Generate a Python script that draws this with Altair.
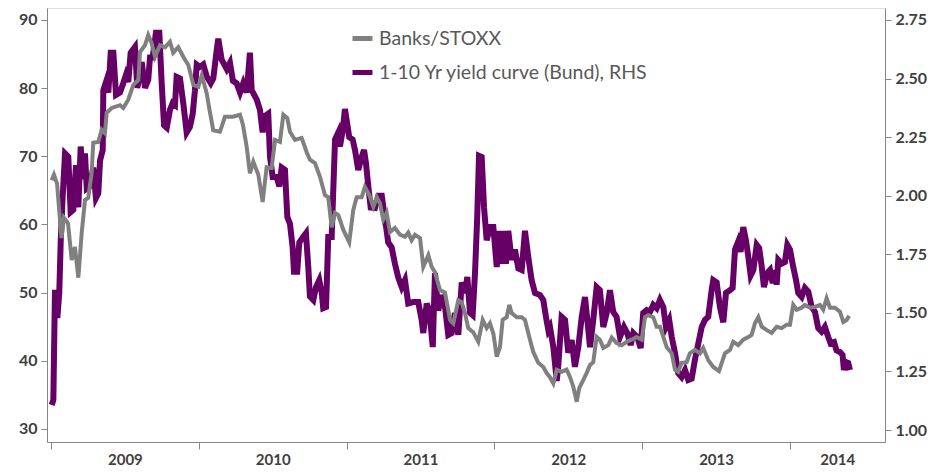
import altair as alt
import pandas as pd

# Decimal-year positions and values
banks_t = [2009.005, 2009.020, 2009.041, 2009.054, 2009.071, 2009.088, 2009.115, 2009.140, 2009.162, 2009.185,
           2009.208, 2009.230, 2009.252, 2009.275, 2009.286, 2009.320, 2009.343, 2009.365, 2009.377, 2009.411,
           2009.467, 2009.489, 2009.523, 2009.557, 2009.591, 2009.602, 2009.636, 2009.658, 2009.681, 2009.704,
           2009.738, 2009.771, 2009.805, 2009.827, 2009.861, 2009.895, 2009.929, 2009.963, 2009.997, 2010.020,
           2010.053, 2010.076, 2010.098, 2010.143, 2010.177, 2010.231, 2010.279, 2010.299, 2010.324, 2010.346,
           2010.369, 2010.403, 2010.432, 2010.459, 2010.493, 2010.516, 2010.549, 2010.572, 2010.599, 2010.617,
           2010.651, 2010.696, 2010.730, 2010.752, 2010.786, 2010.820, 2010.854, 2010.876, 2010.899, 2010.922,
           2010.944, 2010.978, 2011.018, 2011.045, 2011.068, 2011.102, 2011.124, 2011.154, 2011.181, 2011.204,
           2011.226, 2011.248, 2011.271, 2011.294, 2011.327, 2011.361, 2011.395, 2011.417, 2011.440, 2011.463,
           2011.497, 2011.519, 2011.553, 2011.576, 2011.598, 2011.632, 2011.666, 2011.700, 2011.722, 2011.756,
           2011.779, 2011.801, 2011.823, 2011.857, 2011.891, 2011.921, 2011.948, 2011.970, 2011.993, 2012.016,
           2012.038, 2012.056, 2012.083, 2012.101, 2012.117, 2012.151, 2012.185, 2012.207, 2012.241, 2012.263,
           2012.297, 2012.331, 2012.354, 2012.376, 2012.399, 2012.422, 2012.455, 2012.489, 2012.512, 2012.534,
           2012.557, 2012.574, 2012.602, 2012.624, 2012.647, 2012.669, 2012.692, 2012.714, 2012.737, 2012.771,
           2012.794, 2012.827, 2012.861, 2012.895, 2012.929, 2012.963, 2012.997, 2013.019, 2013.041, 2013.075,
           2013.098, 2013.120, 2013.143, 2013.166, 2013.200, 2013.222, 2013.244, 2013.267, 2013.301, 2013.323,
           2013.357, 2013.391, 2013.413, 2013.447, 2013.481, 2013.520, 2013.560, 2013.594, 2013.616, 2013.650,
           2013.684, 2013.718, 2013.741, 2013.763, 2013.786, 2013.809, 2013.843, 2013.876, 2013.910, 2013.944,
           2013.978, 2014.000, 2014.022, 2014.045, 2014.079, 2014.101, 2014.135, 2014.169, 2014.203, 2014.225,
           2014.248, 2014.271, 2014.304, 2014.338, 2014.361, 2014.383, 2014.401]
banks_v = [66.5, 67.3, 66.0, 62.5, 58.0, 61.0, 60.2, 54.8, 56.7, 52.2,
           58.8, 63.6, 63.9, 67.5, 72.0, 72.1, 73.9, 73.4, 76.4, 77.1,
           77.5, 77.1, 78.3, 80.5, 81.2, 85.3, 86.3, 87.8, 86.6, 84.6,
           86.3, 86.0, 86.8, 85.2, 86.0, 84.6, 83.4, 80.5, 80.2, 81.9,
           79.3, 76.4, 73.8, 73.6, 75.8, 75.8, 76.1, 74.6, 71.4, 67.5,
           69.2, 67.3, 63.3, 68.4, 68.3, 72.4, 72.1, 76.1, 75.6, 73.6,
           72.4, 72.7, 70.6, 69.5, 69.0, 67.0, 64.3, 64.0, 59.6, 61.7,
           61.4, 59.2, 57.4, 62.1, 64.0, 64.0, 65.5, 64.3, 62.6, 64.0,
           63.1, 60.7, 61.7, 58.9, 59.5, 58.5, 58.2, 58.8, 57.7, 58.5,
           58.0, 53.8, 55.5, 53.8, 53.0, 50.4, 50.0, 46.0, 45.5, 48.9,
           48.6, 47.0, 44.8, 44.2, 42.8, 46.0, 44.8, 45.5, 44.0, 40.6,
           42.0, 46.0, 46.4, 48.2, 47.0, 46.4, 46.4, 46.0, 43.1, 41.3,
           39.7, 39.1, 38.2, 37.6, 36.7, 38.7, 38.4, 38.7, 37.6, 36.2,
           34.0, 36.0, 37.2, 38.2, 39.4, 39.8, 43.5, 43.1, 41.9, 42.3,
           43.4, 42.6, 42.3, 42.8, 43.1, 43.5, 43.1, 46.4, 46.7, 46.4,
           45.0, 45.0, 43.5, 42.0, 41.1, 38.7, 38.4, 39.7, 39.8, 41.1,
           41.6, 41.1, 41.9, 40.1, 39.1, 38.5, 41.1, 41.6, 42.8, 42.3,
           43.1, 43.5, 43.8, 45.5, 46.4, 45.0, 44.5, 44.1, 45.0, 44.8,
           45.3, 45.3, 48.2, 47.5, 47.8, 48.2, 47.8, 47.9, 48.2, 47.5,
           49.2, 47.8, 47.8, 47.2, 45.7, 46.0, 46.6]

bund_t = [2009.005, 2009.016, 2009.027, 2009.043, 2009.056, 2009.066, 2009.079, 2009.095, 2009.117, 2009.133,
          2009.151, 2009.169, 2009.185, 2009.201, 2009.214, 2009.230, 2009.242, 2009.264, 2009.286, 2009.304,
          2009.320, 2009.332, 2009.350, 2009.354, 2009.372, 2009.388, 2009.404, 2009.422, 2009.440, 2009.467,
          2009.489, 2009.507, 2009.523, 2009.539, 2009.568, 2009.584, 2009.614, 2009.636, 2009.658, 2009.670,
          2009.688, 2009.710, 2009.733, 2009.749, 2009.765, 2009.783, 2009.805, 2009.823, 2009.839, 2009.850,
          2009.873, 2009.895, 2009.918, 2009.940, 2009.959, 2009.974, 2009.986, 2010.008, 2010.030, 2010.053,
          2010.081, 2010.098, 2010.121, 2010.132, 2010.155, 2010.189, 2010.211, 2010.231, 2010.256, 2010.279,
          2010.301, 2010.324, 2010.346, 2010.358, 2010.392, 2010.414, 2010.432, 2010.448, 2010.470, 2010.482,
          2010.500, 2010.527, 2010.545, 2010.561, 2010.583, 2010.599, 2010.617, 2010.635, 2010.644, 2010.666,
          2010.680, 2010.707, 2010.725, 2010.741, 2010.752, 2010.775, 2010.793, 2010.815, 2010.832, 2010.842,
          2010.861, 2010.876, 2010.899, 2010.922, 2010.944, 2010.955, 2010.974, 2010.989, 2011.001, 2011.018,
          2011.041, 2011.057, 2011.079, 2011.102, 2011.118, 2011.131, 2011.147, 2011.163, 2011.192, 2011.215,
          2011.238, 2011.260, 2011.282, 2011.305, 2011.327, 2011.350, 2011.373, 2011.395, 2011.417, 2011.451,
          2011.485, 2011.508, 2011.519, 2011.542, 2011.560, 2011.583, 2011.598, 2011.620, 2011.643, 2011.666,
          2011.688, 2011.711, 2011.733, 2011.756, 2011.779, 2011.801, 2011.817, 2011.835, 2011.853, 2011.869,
          2011.884, 2011.896, 2011.914, 2011.930, 2011.948, 2011.970, 2011.993, 2012.016, 2012.033, 2012.049,
          2012.065, 2012.078, 2012.094, 2012.117, 2012.139, 2012.162, 2012.185, 2012.207, 2012.229, 2012.252,
          2012.275, 2012.309, 2012.331, 2012.349, 2012.365, 2012.376, 2012.399, 2012.422, 2012.432, 2012.455,
          2012.478, 2012.500, 2012.523, 2012.545, 2012.568, 2012.591, 2012.613, 2012.629, 2012.647, 2012.669,
          2012.692, 2012.714, 2012.737, 2012.760, 2012.782, 2012.804, 2012.827, 2012.850, 2012.877, 2012.899,
          2012.922, 2012.940, 2012.967, 2012.990, 2013.007, 2013.030, 2013.053, 2013.075, 2013.098, 2013.120,
          2013.143, 2013.161, 2013.183, 2013.200, 2013.222, 2013.244, 2013.267, 2013.290, 2013.312, 2013.335,
          2013.357, 2013.380, 2013.403, 2013.425, 2013.447, 2013.470, 2013.481, 2013.504, 2013.526, 2013.549,
          2013.567, 2013.594, 2013.612, 2013.628, 2013.650, 2013.666, 2013.684, 2013.702, 2013.718, 2013.734,
          2013.752, 2013.775, 2013.792, 2013.809, 2013.824, 2013.847, 2013.865, 2013.883, 2013.899, 2013.910,
          2013.921, 2013.944, 2013.966, 2013.982, 2014.000, 2014.022, 2014.041, 2014.056, 2014.079, 2014.101,
          2014.124, 2014.147, 2014.169, 2014.191, 2014.214, 2014.236, 2014.259, 2014.275, 2014.298, 2014.315,
          2014.338, 2014.356, 2014.365, 2014.379, 2014.394, 2014.406]
bund_v = [1.107, 1.128, 1.598, 1.478, 1.585, 1.81, 1.995, 2.18, 2.166, 1.93,
          1.94, 2.13, 1.95, 2.21, 2.07, 2.18, 2.03, 2.04, 2.12, 1.99,
          2.01, 2.15, 2.195, 2.45, 2.485, 2.44, 2.61, 2.61, 2.43, 2.44,
          2.48, 2.515, 2.485, 2.61, 2.635, 2.46, 2.57, 2.46, 2.495, 2.59,
          2.59, 2.695, 2.695, 2.48, 2.30, 2.29, 2.366, 2.395, 2.387, 2.507,
          2.50, 2.395, 2.27, 2.294, 2.35, 2.45, 2.56, 2.55, 2.56, 2.51,
          2.48, 2.50, 2.62, 2.67, 2.58, 2.54, 2.567, 2.49, 2.48, 2.44,
          2.48, 2.44, 2.61, 2.45, 2.41, 2.366, 2.27, 2.34, 2.35, 2.165,
          2.08, 2.08, 2.04, 2.12, 2.11, 1.91, 1.88, 1.78, 1.675, 1.675,
          1.80, 1.825, 1.84, 1.695, 1.57, 1.555, 1.61, 1.64, 1.585, 1.52,
          1.525, 1.824, 1.824, 2.24, 2.27, 2.21, 2.28, 2.37, 2.32, 2.25,
          2.24, 2.195, 2.11, 2.165, 2.195, 2.14, 2.04, 1.95, 1.948, 2.00,
          2.00, 1.90, 1.80, 1.78, 1.71, 1.65, 1.61, 1.64, 1.54, 1.546,
          1.546, 1.47, 1.414, 1.54, 1.51, 1.354, 1.67, 1.51, 1.576, 1.525,
          1.406, 1.414, 1.50, 1.406, 1.63, 1.585, 1.653, 1.50, 1.49, 1.67,
          1.91, 2.17, 2.165, 1.95, 1.81, 1.866, 1.866, 1.696, 1.85, 1.71,
          1.85, 1.71, 1.85, 1.726, 1.77, 1.69, 1.683, 1.85, 1.74, 1.64,
          1.585, 1.576, 1.555, 1.483, 1.427, 1.44, 1.354, 1.21, 1.27, 1.483,
          1.47, 1.33, 1.384, 1.27, 1.354, 1.483, 1.568, 1.47, 1.354, 1.47,
          1.61, 1.597, 1.44, 1.50, 1.597, 1.504, 1.483, 1.397, 1.44, 1.414,
          1.363, 1.414, 1.397, 1.35, 1.50, 1.512, 1.504, 1.534, 1.52, 1.555,
          1.525, 1.44, 1.47, 1.397, 1.33, 1.243, 1.226, 1.256, 1.214, 1.22,
          1.30, 1.37, 1.44, 1.47, 1.483, 1.597, 1.64, 1.63, 1.525, 1.46,
          1.585, 1.597, 1.606, 1.77, 1.805, 1.76, 1.866, 1.81, 1.74, 1.66,
          1.683, 1.79, 1.776, 1.696, 1.61, 1.67, 1.683, 1.627, 1.683, 1.62,
          1.726, 1.71, 1.717, 1.79, 1.77, 1.696, 1.64, 1.585, 1.568, 1.606,
          1.59, 1.525, 1.504, 1.435, 1.42, 1.44, 1.397, 1.37, 1.375, 1.34,
          1.333, 1.32, 1.256, 1.29, 1.286, 1.256]

series_names = ["Banks/STOXX", "1-10 Yr yield curve (Bund), RHS"]
series_colors = ["#808080", "#660066"]

year_ticks = [2009, 2010, 2011, 2012, 2013, 2014]
year_label_pos = [2009.5, 2010.5, 2011.5, 2012.5, 2013.5, 2014.32]
left_ticks = [30, 40, 50, 60, 70, 80, 90]
right_ticks = [1.00, 1.25, 1.50, 1.75, 2.00, 2.25, 2.50, 2.75]

banks = pd.DataFrame({"t": banks_t, "v": banks_v, "series": series_names[0]})
bund = pd.DataFrame({"t": bund_t, "v": bund_v, "series": series_names[1]})

FONT = "Lato"
AX = "#404040"
DOM = "#868686"

x_enc = alt.X(
    "t:Q",
    scale=alt.Scale(domain=[2008.973, 2014.643], nice=False, zero=False),
    axis=alt.Axis(
        values=year_ticks + year_label_pos,
        labelExpr="datum.value % 1 == 0 ? '' : floor(datum.value)",
        tickOpacity={"condition": {"test": "datum.value % 1 == 0", "value": 1}, "value": 0},
        tickSize=7, tickColor=DOM, domainColor=DOM, grid=False,
        labelFont=FONT, labelFontSize=15, labelFontWeight="bold", labelColor=AX,
        labelPadding=3, labelFlush=False, labelOverlap=False, title=None,
    ),
)

color_enc = alt.Color(
    "series:N",
    scale=alt.Scale(domain=series_names, range=series_colors),
    legend=alt.Legend(
        orient="none", legendX=303, legendY=18, title=None, direction="vertical",
        symbolType="stroke", symbolSize=400, symbolStrokeWidth=5,
        labelFont=FONT, labelFontSize=19.5, labelColor="#595959", rowPadding=11,
        labelOffset=4, labelLimit=0,
    ),
)

bund_line = alt.Chart(bund).mark_line(strokeWidth=6, interpolate="linear").encode(
    x=x_enc,
    y=alt.Y("v:Q", scale=alt.Scale(domain=[0.949, 2.801], nice=False, zero=False),
            axis=alt.Axis(orient="right", values=right_ticks, format=".2f", grid=False,
                          tickSize=6, tickColor=DOM, domainColor=DOM, labelPadding=4,
                          labelFont=FONT, labelFontSize=16, labelFontWeight="bold",
                          labelColor=AX, title=None)),
    color=color_enc,
)

banks_line = alt.Chart(banks).mark_line(strokeWidth=4, interpolate="linear").encode(
    x=x_enc,
    y=alt.Y("v:Q", scale=alt.Scale(domain=[28.09, 91.76], nice=False, zero=False),
            axis=alt.Axis(orient="left", values=left_ticks, grid=False,
                          tickSize=6, tickColor=DOM, domainColor=DOM, labelPadding=4,
                          labelFont=FONT, labelFontSize=16, labelFontWeight="bold",
                          labelColor=AX, title=None)),
    color=color_enc,
)

chart = alt.layer(bund_line, banks_line).resolve_scale(y="independent").properties(
    width=838, height=434,
    autosize="none",
    padding={"left": 39, "top": 0, "right": 55, "bottom": 26},
).configure_view(stroke=None).configure(background="white")

chart.save("out.html", embed_options={"renderer": "svg", "actions": False})
